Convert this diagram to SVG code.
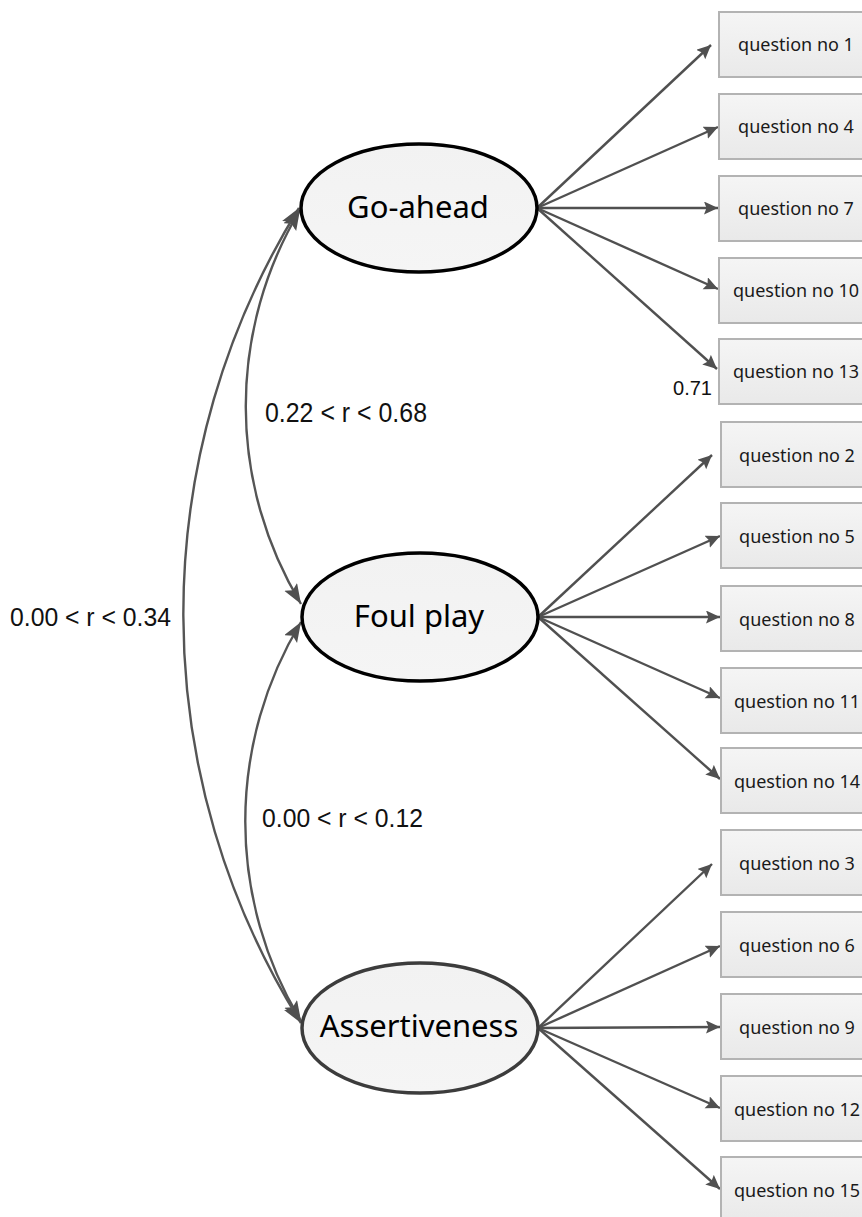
<svg xmlns="http://www.w3.org/2000/svg" width="862" height="1217" viewBox="0 0 862 1217">
<defs>
<style>
.box rect{fill:url(#bg);stroke:#b3b3b3;stroke-width:2}
.box text{font-family:"Noto Sans","Open Sans",sans-serif;font-size:18px;fill:#1a1a1a;text-anchor:middle}
.lat ellipse{fill:url(#eg);stroke-width:3.5}
.lat text{font-family:"Noto Sans","Open Sans",sans-serif;font-size:31px;fill:#000;text-anchor:middle}
.load{stroke:#505050;stroke-width:2.4;fill:none;marker-end:url(#ah)}
.cor{stroke:#555;stroke-width:2.4;fill:none;marker-start:url(#ch);marker-end:url(#ch)}
.lbl{font-family:"Liberation Sans",Arial,sans-serif;fill:#111}
</style>
<linearGradient id="bg" x1="0" y1="0" x2="0" y2="1"><stop offset="0" stop-color="#f5f5f5"/><stop offset="1" stop-color="#e9e9e9"/></linearGradient>
<linearGradient id="eg" x1="0" y1="0" x2="0" y2="1"><stop offset="0" stop-color="#f2f2f2"/><stop offset="1" stop-color="#f5f5f5"/></linearGradient>
<marker id="ah" markerUnits="userSpaceOnUse" markerWidth="16" markerHeight="14" refX="14" refY="6.5" orient="auto"><path d="M0,0 L14,6.5 L0,13 L2.5,6.5 z" fill="#505050"/></marker>
<marker id="ch" markerUnits="userSpaceOnUse" markerWidth="22" markerHeight="16" refX="20" refY="7.5" orient="auto-start-reverse"><path d="M0,0 L20,7.5 L0,15 L4,7.5 z" fill="#505050"/></marker>
</defs>
<rect width="862" height="1217" fill="#fff"/>
<g id="connectors">
<path class="load" d="M537,208 L711,45"/>
<path class="load" d="M537,208 L718,127"/>
<path class="load" d="M537,208 L718,208"/>
<path class="load" d="M537,208 L718,289"/>
<path class="load" d="M537,208 L717,369"/>
<path class="load" d="M538,617 L712,455"/>
<path class="load" d="M538,617 L720,536"/>
<path class="load" d="M538,617 L720,617"/>
<path class="load" d="M538,617 L720,698"/>
<path class="load" d="M538,617 L720,779"/>
<path class="load" d="M538,1028 L712,864"/>
<path class="load" d="M538,1028 L720,946"/>
<path class="load" d="M538,1028 L720,1027"/>
<path class="load" d="M538,1028 L720,1108"/>
<path class="load" d="M538,1028 L720,1189"/>
<path class="cor" d="M300,210 A382,382 0 0 0 301,604"/>
<path class="cor" d="M301,622 A385,385 0 0 0 301,1021"/>
<path class="cor" d="M299,208 A770,770 0 0 0 301,1023"/>
</g>
<g id="goahead" class="lat"><ellipse cx="419" cy="208" rx="118" ry="64" stroke="#000"/><text x="418" y="218">Go-ahead</text></g>
<g id="foulplay" class="lat"><ellipse cx="420" cy="617" rx="118" ry="64" stroke="#000"/><text x="419" y="627">Foul play</text></g>
<g id="assertiveness" class="lat"><ellipse cx="420" cy="1028" rx="118" ry="65" stroke="#3c3c3c"/><text x="419" y="1037">Assertiveness</text></g>
<g id="q1" class="box"><rect x="719" y="12" width="154" height="65"/><text x="796" y="51">question no 1</text></g>
<g id="q4" class="box"><rect x="719" y="94" width="154" height="65"/><text x="796" y="133">question no 4</text></g>
<g id="q7" class="box"><rect x="719" y="176" width="154" height="65"/><text x="796" y="215">question no 7</text></g>
<g id="q10" class="box"><rect x="719" y="258" width="154" height="65"/><text x="796" y="297">question no 10</text></g>
<g id="q13" class="box"><rect x="719" y="339" width="154" height="65"/><text x="796" y="378">question no 13</text></g>
<g id="q2" class="box"><rect x="721" y="422" width="154" height="65"/><text x="797" y="462">question no 2</text></g>
<g id="q5" class="box"><rect x="721" y="503" width="154" height="65"/><text x="797" y="543">question no 5</text></g>
<g id="q8" class="box"><rect x="721" y="586" width="154" height="65"/><text x="797" y="626">question no 8</text></g>
<g id="q11" class="box"><rect x="721" y="668" width="154" height="65"/><text x="797" y="708">question no 11</text></g>
<g id="q14" class="box"><rect x="721" y="748" width="154" height="65"/><text x="797" y="788">question no 14</text></g>
<g id="q3" class="box"><rect x="721" y="830" width="154" height="65"/><text x="797" y="870">question no 3</text></g>
<g id="q6" class="box"><rect x="721" y="912" width="154" height="65"/><text x="797" y="952">question no 6</text></g>
<g id="q9" class="box"><rect x="721" y="994" width="154" height="65"/><text x="797" y="1034">question no 9</text></g>
<g id="q12" class="box"><rect x="721" y="1076" width="154" height="65"/><text x="797" y="1116">question no 12</text></g>
<g id="q15" class="box"><rect x="721" y="1157" width="154" height="65"/><text x="797" y="1197">question no 15</text></g>
<g id="labels">
<text class="lbl" x="265" y="422" font-size="27" textLength="162" lengthAdjust="spacingAndGlyphs">0.22 &lt; r &lt; 0.68</text>
<text class="lbl" x="10" y="626" font-size="26" textLength="161" lengthAdjust="spacingAndGlyphs">0.00 &lt; r &lt; 0.34</text>
<text class="lbl" x="262" y="827" font-size="26" textLength="161" lengthAdjust="spacingAndGlyphs">0.00 &lt; r &lt; 0.12</text>
<text class="lbl" x="673" y="395" font-size="20" textLength="39" lengthAdjust="spacingAndGlyphs">0.71</text>
</g>
</svg>
